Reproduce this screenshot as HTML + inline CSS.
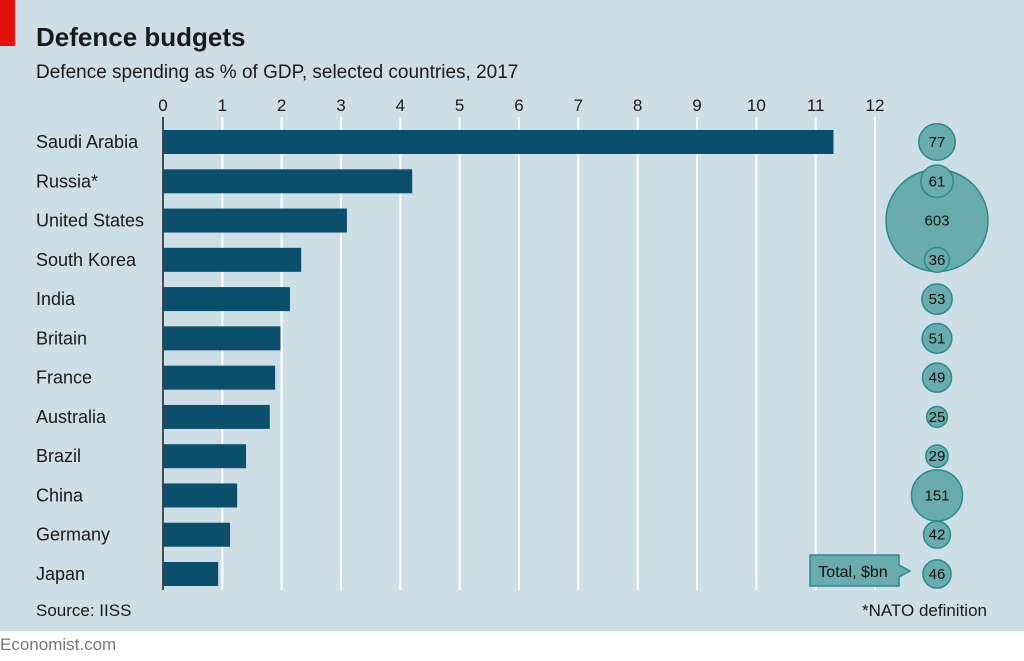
<!DOCTYPE html>
<html><head><meta charset="utf-8"><style>
html,body{margin:0;padding:0;background:#fff}
svg{display:block;font-family:"Liberation Sans",sans-serif}
</style></head><body>
<svg id="chart" width="1024" height="661" viewBox="0 0 1024 661">
<rect x="0" y="0" width="1024" height="631" fill="#cedee6"/>
<rect x="0" y="0" width="15" height="46" fill="#e3120b"/>
<text x="36" y="46" font-size="26" font-weight="bold" fill="#1a1a1a">Defence budgets</text>
<text x="36" y="78" font-size="19" fill="#1a1a1a">Defence spending as % of GDP, selected countries, 2017</text>
<g id="grid"></g><g id="bars"></g><g id="bubbles"></g>
<g>
<polygon points="810,555 899,555 899,565 910,571 899,577 899,586 810,586" fill="#6aacad" stroke="#2a8a8a" stroke-width="1.5"/>
<text x="853" y="577" font-size="16" text-anchor="middle" fill="#111">Total, $bn</text>
</g>
<text x="36" y="616" font-size="17" fill="#1a1a1a">Source: IISS</text>
<text x="987" y="616" font-size="17" text-anchor="end" fill="#1a1a1a">*NATO definition</text>
<text x="0" y="650" font-size="17" fill="#777">Economist.com</text>
</svg>
<script>
const countries=["Saudi Arabia","Russia*","United States","South Korea","India","Britain","France","Australia","Brazil","China","Germany","Japan"];
const gdpShare=[11.3,4.2,3.1,2.33,2.14,1.98,1.89,1.8,1.4,1.25,1.13,0.93];
const totalBn=[77,61,603,36,53,51,49,25,29,151,42,46];
const tickValues=[0,1,2,3,4,5,6,7,8,9,10,11,12];
const NS="http://www.w3.org/2000/svg";
const x=v=>163+v*(875-163)/12;
const y=i=>142+i*(574-142)/11;
const r=v=>51*Math.sqrt(v/603);
function mk(tag,attrs,parent){const e=document.createElementNS(NS,tag);for(const k in attrs)e.setAttribute(k,attrs[k]);parent.appendChild(e);return e;}
const grid=document.getElementById('grid'),bars=document.getElementById('bars'),bub=document.getElementById('bubbles');
tickValues.forEach(t=>{
 const l=mk('line',{x1:x(t),x2:x(t),y1:117,y2:590,stroke:t===0?'#1a1a1a':'#fff','stroke-width':t===0?1.5:2},grid);
 
 
 const tx=mk('text',{x:x(t),y:111,'font-size':17,'text-anchor':'middle',fill:'#1a1a1a'},grid);
 tx.textContent=t;
 
 
});
countries.forEach((c,i)=>{
 const lb=mk('text',{x:36,y:y(i)+6,'font-size':18,fill:'#1a1a1a'},bars);
 lb.textContent=c;
 
 
 const b=mk('rect',{x:x(0),y:y(i)-12,width:x(gdpShare[i])-x(0),height:24,fill:'#0b4f6c'},bars);
 
 
});
const order=totalBn.map((v,i)=>i).sort((a,b)=>totalBn[b]-totalBn[a]);
order.forEach(i=>{
 const cc=mk('circle',{cx:937,cy:y(i),r:r(totalBn[i]),fill:'#6aacad',stroke:'#2a8a8a','stroke-width':1.5},bub);
 
 
});
countries.forEach((c,i)=>{
 const t=mk('text',{x:937,y:y(i)+5,'font-size':15,'text-anchor':'middle',fill:'#111'},bub);
 t.textContent=totalBn[i];
 
 
});
</script>
</body></html>
